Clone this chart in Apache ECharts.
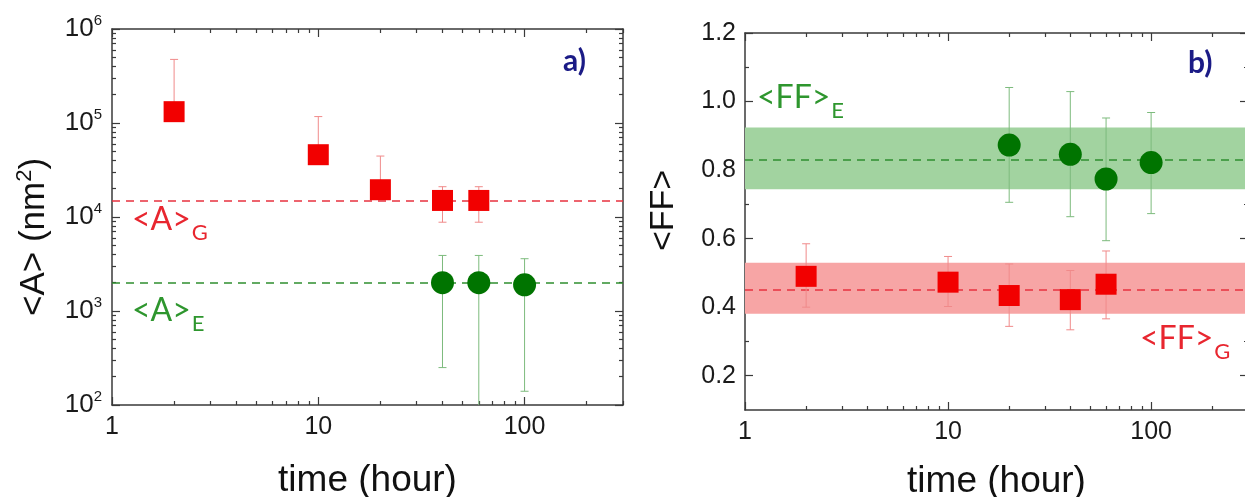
<!DOCTYPE html>
<html><head><meta charset="utf-8">
<script src="https://cdn.jsdelivr.net/npm/echarts@6/dist/echarts.min.js"></script>
<style>html,body{margin:0;padding:0;background:#fff}#c{width:1245px;height:497px}</style>
</head><body><div id="c"></div>
<script>
// ---- tick values ----
const timeTicks = [1, 10, 100];
const timeMinorTicks = [2, 3, 4, 5, 6, 7, 8, 9, 20, 30, 40, 50, 60, 70, 80, 90, 200, 300];
const areaTicks = [100, 1000, 10000, 100000, 1000000];
const areaMinorTicks = [200, 300, 400, 500, 600, 700, 800, 900,
  2000, 3000, 4000, 5000, 6000, 7000, 8000, 9000,
  20000, 30000, 40000, 50000, 60000, 70000, 80000, 90000,
  200000, 300000, 400000, 500000, 600000, 700000, 800000, 900000];
const ffTicks = [0.2, 0.4, 0.6, 0.8, 1.0, 1.2];
const ffMinorTicks = [0.3, 0.5, 0.7, 0.9, 1.1];

// ---- panel a) <A> ----
const areaGTime = [2, 10, 20, 40, 60];
const areaGValue = [132000, 46000, 19500, 15000, 15000];
const areaGLow = [null, null, null, 8800, 8800];
const areaGHigh = [475000, 117000, 44500, 21000, 21000];
const areaETime = [40, 60, 100];
const areaEValue = [2000, 2000, 1900];
const areaELow = [250, 50, 140];
const areaEHigh = [3900, 3900, 3600];
const areaGMean = 15000;
const areaEMean = 2000;

// ---- panel b) <FF> ----
const ffGTime = [2, 10, 20, 40, 60];
const ffGValue = [0.490, 0.473, 0.434, 0.422, 0.467];
const ffGLow = [0.400, 0.402, 0.344, 0.334, 0.366];
const ffGHigh = [0.585, 0.548, 0.526, 0.507, 0.564];
const ffETime = [20, 40, 60, 100];
const ffEValue = [0.873, 0.846, 0.774, 0.822];
const ffELow = [0.706, 0.664, 0.594, 0.673];
const ffEHigh = [1.041, 1.029, 0.952, 0.968];
const ffGMean = 0.453;
const ffGBand = [0.381, 0.530];
const ffEMean = 0.829;
const ffEBand = [0.744, 0.924];

const RED = '#f20000', GREEN = '#007400';
const RED_ERR = '#f08a8a', GREEN_ERR = '#7dbb7d';
const AX = '#3a3a3a';
const TICKFONT = 'Liberation Sans, Arial, sans-serif';
const NOTEFONT = 'Lato, "Open Sans", sans-serif';

function xAx(grid, position, ticks, len, showLine, showLabel, name, nameGap) {
  return {
    type: 'log', logBase: 10, gridIndex: grid, position: position, min: 1, max: 300,
    axisLine: { show: showLine, onZero: false, lineStyle: { color: AX, width: 1.5 } },
    axisTick: { show: true, inside: true, length: len, customValues: ticks, lineStyle: { color: AX, width: 1.2 } },
    axisLabel: { show: showLabel, customValues: timeTicks, margin: 10, fontSize: 25, color: '#1a1a1a', fontFamily: TICKFONT },
    splitLine: { show: false }, minorTick: { show: false },
    name: name || '', nameLocation: 'middle', nameGap: nameGap || 0,
    nameTextStyle: { fontSize: 37, color: '#111', fontFamily: TICKFONT }
  };
}
function yLogAx(grid, position, ticks, len, showLine, showLabel, extra) {
  return Object.assign({
    type: 'log', logBase: 10, gridIndex: grid, position: position, min: 100, max: 1000000,
    axisLine: { show: showLine, onZero: false, lineStyle: { color: AX, width: 1.5 } },
    axisTick: { show: true, inside: true, length: len, customValues: ticks, lineStyle: { color: AX, width: 1.2 } },
    axisLabel: {
      show: showLabel, customValues: areaTicks, margin: 10, color: '#1a1a1a', fontFamily: TICKFONT,
      formatter: v => '{b|10}{s|' + Math.round(Math.log10(v)) + '}',
      rich: {
        b: { fontSize: 26, lineHeight: 26, verticalAlign: 'bottom', fontFamily: TICKFONT, color: '#1a1a1a' },
        s: { fontSize: 15, lineHeight: 15, padding: [0, 0, 14, 0], verticalAlign: 'bottom', fontFamily: TICKFONT, color: '#1a1a1a' }
      }
    },
    splitLine: { show: false }
  }, extra || {});
}
function yLinAx(grid, position, ticks, len, showLine, showLabel, extra) {
  return Object.assign({
    type: 'value', gridIndex: grid, position: position, min: 0.1, max: 1.2,
    axisLine: { show: showLine, onZero: false, lineStyle: { color: AX, width: 1.5 } },
    axisTick: { show: true, inside: true, length: len, customValues: ticks, lineStyle: { color: AX, width: 1.2 } },
    axisLabel: { show: showLabel, customValues: ffTicks, margin: 9, fontSize: 25, color: '#1a1a1a', fontFamily: TICKFONT,
      formatter: v => v.toFixed(1) },
    splitLine: { show: false }
  }, extra || {});
}

function errSeries(xi, yi, times, vals, lows, highs, color) {
  return {
    type: 'custom', xAxisIndex: xi, yAxisIndex: yi, z: 3, silent: true,
    data: times.map((t, i) => [t, vals[i], lows[i] == null ? vals[i] : lows[i], highs[i], lows[i] == null ? 0 : 1]),
    encode: { x: 0, y: 1 },
    renderItem: function (params, api) {
      const cs = params.coordSys;
      const x = api.coord([api.value(0), api.value(1)])[0];
      let yl = api.coord([api.value(0), api.value(2)])[1];
      const yh = api.coord([api.value(0), api.value(3)])[1];
      const bot = cs.y + cs.height;
      let clamped = false;
      if (yl > bot) { yl = bot; clamped = true; }
      const st = { stroke: color, lineWidth: 1 };
      const ch = [
        { type: 'line', shape: { x1: x, y1: yl, x2: x, y2: yh }, style: st },
        { type: 'line', shape: { x1: x - 4, y1: yh, x2: x + 4, y2: yh }, style: st }
      ];
      if (api.value(4) && !clamped) ch.push({ type: 'line', shape: { x1: x - 4, y1: yl, x2: x + 4, y2: yl }, style: st });
      return { type: 'group', children: ch };
    }
  };
}
function markSeries(xi, yi, means, bands) {
  return {
    type: 'line', xAxisIndex: xi, yAxisIndex: yi, data: [], z: 1, silent: true, symbol: 'none',
    markArea: bands ? {
      silent: true, z: 1,
      data: bands.map(b => [{ yAxis: b.range[0], itemStyle: { color: b.color, opacity: 1 } }, { yAxis: b.range[1] }])
    } : undefined,
    markLine: {
      silent: true, z: 2, symbol: 'none', label: { show: false }, animation: false,
      data: means.map(m => ({ yAxis: m.v, lineStyle: { color: m.color, type: [8, 6], width: 1.6 } }))
    }
  };
}
function sc(xi, yi, times, vals, symbol, size, color) {
  return {
    type: 'scatter', xAxisIndex: xi, yAxisIndex: yi, z: 4, symbol: symbol, symbolSize: size,
    itemStyle: { color: color, opacity: 1 },
    data: times.map((t, i) => [t, vals[i]])
  };
}

function note(x, y, main, sub, color, size) {
  return {
    type: 'text', x: x, y: y, silent: true,
    style: {
      text: '{m|' + main + '}' + (sub ? '{s|' + sub + '}' : ''),
      rich: {
        m: { fontSize: size, lineHeight: size + 2, verticalAlign: 'top', fontFamily: NOTEFONT, fill: color, color: color },
        s: { fontSize: Math.round(size * 0.68), lineHeight: Math.round(size * 0.68) + 2, padding: [Math.round(size * 0.55), 0, 0, 1], verticalAlign: 'top', fontFamily: NOTEFONT, fill: color, color: color }
      },
      verticalAlign: 'top'
    }
  };
}

const chart = echarts.init(document.getElementById('c'), null, { renderer: 'canvas' });
chart.setOption({
  animation: false,
  backgroundColor: '#ffffff',
  grid: [
    { left: 112, top: 29, width: 511, height: 376, containLabel: false, outerBoundsMode: 'none' },
    { left: 745, top: 33, width: 503, height: 377, containLabel: false, outerBoundsMode: 'none' }
  ],
  xAxis: [
    xAx(0, 'bottom', timeTicks, 8, true, true, 'time (hour)', 57),
    xAx(0, 'bottom', timeMinorTicks, 4, false, false),
    xAx(0, 'top', timeTicks, 8, true, false),
    xAx(0, 'top', timeMinorTicks, 4, false, false),
    xAx(1, 'bottom', timeTicks, 8, true, true, 'time (hour)', 53),
    xAx(1, 'bottom', timeMinorTicks, 4, false, false),
    xAx(1, 'top', timeTicks, 8, true, false),
    xAx(1, 'top', timeMinorTicks, 4, false, false)
  ],
  yAxis: [
    yLogAx(0, 'left', areaTicks, 8, true, true, {
      name: '{m|<A> (nm}{s|2}{m|)}', nameLocation: 'middle', nameGap: 60,
      nameTextStyle: {
        padding: [0, 40, 0, 0],
        rich: {
          m: { fontSize: 35, lineHeight: 35, verticalAlign: 'bottom', fontFamily: TICKFONT, color: '#111' },
          s: { fontSize: 22, lineHeight: 22, padding: [0, 0, 16, 0], verticalAlign: 'bottom', fontFamily: TICKFONT, color: '#111' }
        }
      }
    }),
    yLogAx(0, 'left', areaMinorTicks, 4, false, false),
    yLogAx(0, 'right', areaTicks, 8, true, false),
    yLogAx(0, 'right', areaMinorTicks, 4, false, false),
    yLinAx(1, 'left', ffTicks, 8, true, true, {
      name: '<FF>', nameLocation: 'middle', nameGap: 64,
      nameTextStyle: { fontSize: 34, color: '#111', fontFamily: TICKFONT, padding: [0, 0, 0, 22] }
    }),
    yLinAx(1, 'left', ffMinorTicks, 4, false, false),
    yLinAx(1, 'right', ffTicks, 8, true, false),
    yLinAx(1, 'right', ffMinorTicks, 4, false, false)
  ],
  series: [
    markSeries(0, 0, [{ v: areaGMean, color: '#e8323f' }, { v: areaEMean, color: '#2f8f2f' }], null),
    errSeries(0, 0, areaGTime, areaGValue, areaGLow, areaGHigh, RED_ERR),
    errSeries(0, 0, areaETime, areaEValue, areaELow, areaEHigh, GREEN_ERR),
    sc(0, 0, areaGTime, areaGValue, 'rect', 21, RED),
    sc(0, 0, areaETime, areaEValue, 'circle', 23, GREEN),

    markSeries(4, 4, [{ v: ffGMean, color: '#e8323f' }, { v: ffEMean, color: '#2f8f2f' }],
      [{ range: ffGBand, color: '#f7a5a5' }, { range: ffEBand, color: '#a2d3a0' }]),
    errSeries(4, 4, ffGTime, ffGValue, ffGLow, ffGHigh, RED_ERR),
    errSeries(4, 4, ffETime, ffEValue, ffELow, ffEHigh, GREEN_ERR),
    sc(4, 4, ffGTime, ffGValue, 'rect', 21, RED),
    sc(4, 4, ffETime, ffEValue, 'circle', 23, GREEN)
  ],
  graphic: [
    note(132, 204, '<A>', 'G', '#e8262f', 32),
    note(132, 295, '<A>', 'E', '#2e962e', 32),
    note(757, 82, '<FF>', 'E', '#2e962e', 32),
    note(1140, 323, '<FF>', 'G', '#e8262f', 32),
    { type: 'text', x: 563, y: 46, silent: true, style: { text: 'a)', fontSize: 30, fontWeight: 'bold', fontFamily: NOTEFONT, fill: '#1b1b86' } },
    { type: 'text', x: 1188, y: 48, silent: true, style: { text: 'b)', fontSize: 30, fontWeight: 'bold', fontFamily: NOTEFONT, fill: '#1b1b86' } }
  ]
});
</script></body></html>
